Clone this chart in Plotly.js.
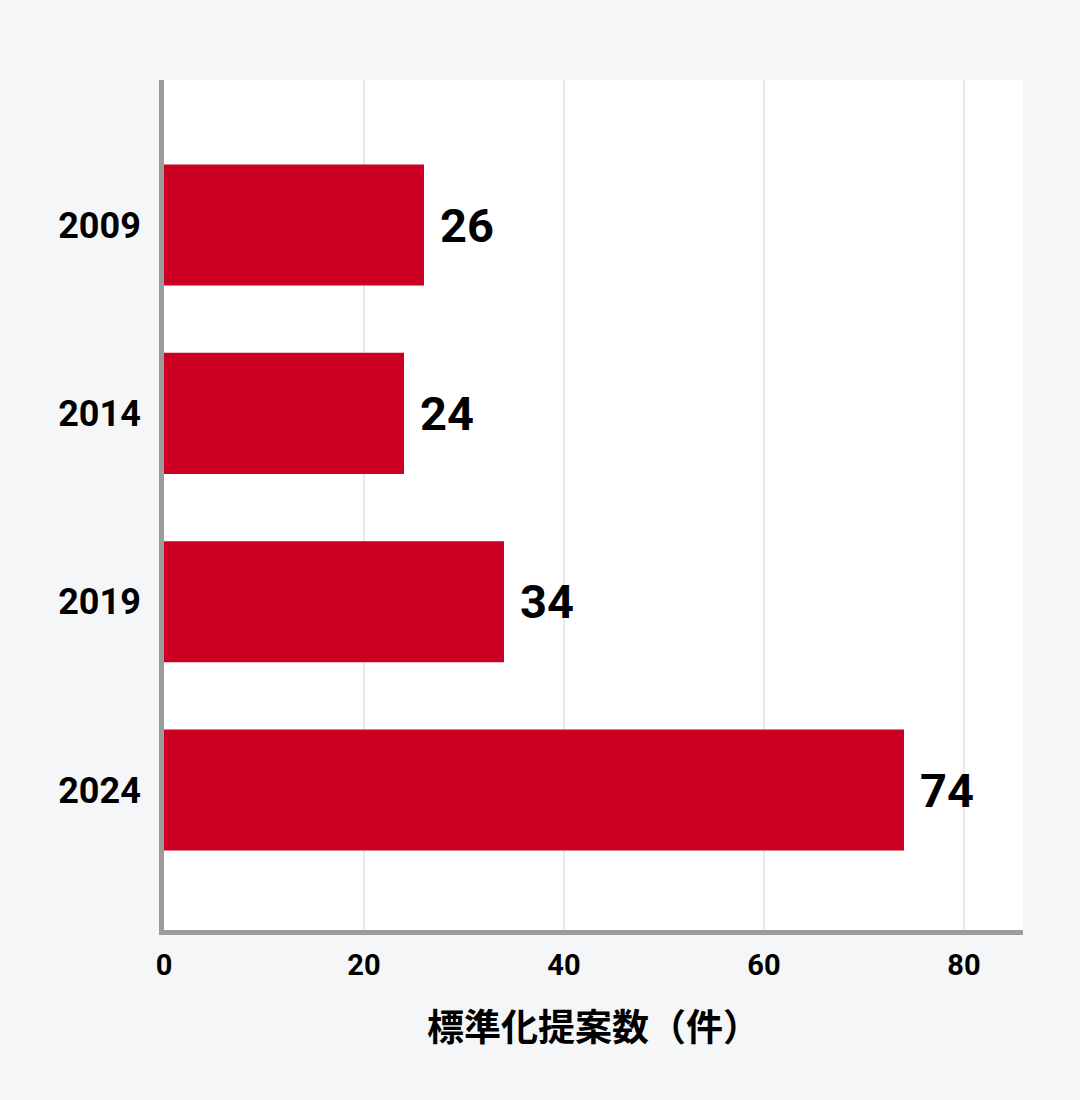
<!DOCTYPE html>
<html>
<head>
<meta charset="utf-8">
<script src="https://cdn.plot.ly/plotly-3.0.1.min.js"></script>
<style>
html,body{margin:0;padding:0;background:#f5f6f8;}
#chart{width:1080px;height:1100px;}
</style>
</head>
<body>
<div id="chart"></div>
<script>
const years = ['2009', '2014', '2019', '2024'];
const proposals = [26, 24, 34, 74];
const xTickVals = [0, 20, 40, 60, 80];
const xTitle = '標準化提案数（件）';

const barColor = '#cc0022';
const fontFamily = 'Roboto, "Noto Sans", sans-serif';

const trace = {
  type: 'bar',
  orientation: 'h',
  x: proposals,
  y: years,
  marker: {color: barColor},
  width: 0.643,
  hoverinfo: 'none'
};

// category axis: annotation y given as the category's serial index
const annotations = proposals.map((v, i) => ({
  x: v,
  y: years.indexOf(years[i]),
  xref: 'x',
  yref: 'y',
  text: String(v),
  showarrow: false,
  xanchor: 'left',
  yanchor: 'middle',
  xshift: 14,
  font: {family: fontFamily, size: 47, color: '#000000', weight: 'bold'}
}));

const layout = {
  width: 1080,
  height: 1100,
  paper_bgcolor: '#f5f6f8',
  plot_bgcolor: '#ffffff',
  margin: {l: 164, r: 57, t: 80, b: 170, pad: 0},
  showlegend: false,
  xaxis: {
    range: [0, 85.9],
    tickvals: xTickVals,
    ticktext: xTickVals.map(String),
    showgrid: true,
    gridcolor: '#e8e8ea',
    gridwidth: 2,
    zeroline: false,
    showline: true,
    linecolor: '#9c9c9c',
    linewidth: 5,
    ticks: '',
    ticklabelstandoff: 5,
    tickfont: {family: fontFamily, size: 29, color: '#000000', weight: 'bold'},
    title: {
      text: xTitle,
      font: {family: '"Noto Sans CJK JP", sans-serif', size: 37, color: '#000000', weight: 'bold'},
      standoff: 36
    },
    fixedrange: true
  },
  yaxis: {
    type: 'category',
    categoryorder: 'array',
    categoryarray: years,
    range: [3.743, -0.77],
    showgrid: false,
    zeroline: false,
    showline: true,
    linecolor: '#9c9c9c',
    linewidth: 5,
    ticks: '',
    ticklabelstandoff: 11,
    tickfont: {family: fontFamily, size: 36, color: '#000000', weight: 'bold'},
    fixedrange: true
  },
  annotations: annotations
};

Plotly.newPlot('chart', [trace], layout, {displayModeBar: false, staticPlot: true});
</script>
</body>
</html>
